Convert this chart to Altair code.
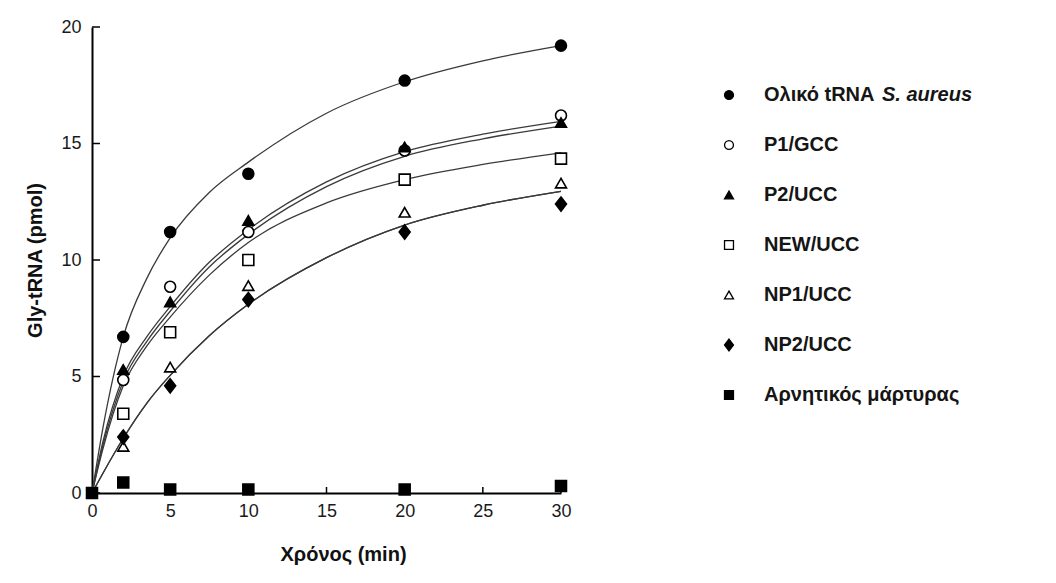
import altair as alt
import pandas as pd

# ---------------- data ----------------
series = ["Ολικό tRNA S. aureus", "P1/GCC", "P2/UCC", "NEW/UCC",
          "NP1/UCC", "NP2/UCC", "Αρνητικός μάρτυρας"]

t_meas = [2, 5, 10, 20, 30]
total_y = [6.7, 11.2, 13.7, 17.7, 19.2]
p1_y = [4.85, 8.85, 11.2, 14.7, 16.2]
p2_y = [5.3, 8.2, 11.7, 14.85, 15.9]
new_y = [3.4, 6.9, 10.0, 13.45, 14.35]
np1_y = [2.0, 5.4, 8.9, 12.05, 13.3]
np2_y = [2.4, 4.6, 8.3, 11.2, 12.4]
neg_t = [0, 2, 5, 10, 20, 30]
neg_y = [0.0, 0.45, 0.15, 0.15, 0.15, 0.3]

# fitted curves
t_fit = [0, 0.7, 2, 3.5, 5, 7.5, 10, 15, 20, 25, 30]
total_fit = [0, 2.8, 6.7, 9.2, 10.95, 12.9, 14.2, 16.3, 17.65, 18.55, 19.2]
p1_fit = [0, 2.2, 5.0, 6.7, 8.0, 9.9, 11.3, 13.35, 14.65, 15.4, 15.95]
p2_fit = [0, 2.05, 4.8, 6.5, 7.8, 9.7, 11.1, 13.15, 14.45, 15.2, 15.75]
new_fit = [0, 1.9, 4.6, 6.3, 7.55, 9.35, 10.75, 12.45, 13.45, 14.1, 14.6]
np1_fit = [0, 0.85, 2.35, 3.85, 5.05, 6.75, 8.1, 10.1, 11.5, 12.35, 12.95]
np2_fit = [0, 0.85, 2.35, 3.85, 5.05, 6.75, 8.1, 10.1, 11.5, 12.35, 12.95]

x_ticks = [0, 5, 10, 15, 20, 25, 30]
y_ticks = [0, 5, 10, 15, 20]

# ---------------- styles ----------------
DIAMOND = "M0,-1.3L1,0L0,1.3L-1,0Z"
shapes = ["circle", "circle", "triangle-up", "square",
          "triangle-up", DIAMOND, "square"]
fills = ["black", "white", "black", "white", "white", "black", "black"]
sizes = [120, 120, 140, 150, 160, 150, 120]

# ---------------- tables ----------------
pts_rows = []
for name, ys in zip(series[:6], [total_y, p1_y, p2_y, new_y, np1_y, np2_y]):
    for t, v in zip(t_meas, ys):
        pts_rows.append({"series": name, "t": t, "v": v})
for t, v in zip(neg_t, neg_y):
    pts_rows.append({"series": series[6], "t": t, "v": v})
pts = pd.DataFrame(pts_rows)

fit_rows = []
for name, ys in zip(series[:6], [total_fit, p1_fit, p2_fit, new_fit, np1_fit, np2_fit]):
    for t, v in zip(t_fit, ys):
        fit_rows.append({"series": name, "t": t, "v": v})
fit = pd.DataFrame(fit_rows)

leg = pd.DataFrame({"series": series,
                    "label": ["Ολικό tRNA"] + series[1:]})
leg_it = pd.DataFrame({"series": [series[0]], "label": ["S. aureus"]})

W, H = 469, 466
FONT = "Liberation Sans"

x_axis = alt.Axis(values=x_ticks, title="Χρόνος (min)", ticks=False, grid=False,
                  labelFlush=False, labelFontSize=18, labelPadding=9, titleFontSize=20,
                  titlePadding=24, titleX=251)
y_axis = alt.Axis(values=y_ticks, title="Gly-tRNA  (pmol)", ticks=False, grid=False,
                  labelFlush=False, labelFontSize=18, labelPadding=11, titleFontSize=20,
                  titlePadding=15)
X = alt.X("t:Q", scale=alt.Scale(domain=[0, 30], nice=False, zero=False), axis=x_axis)
Y = alt.Y("v:Q", scale=alt.Scale(domain=[0, 20], nice=False), axis=y_axis)

shape_enc = alt.Shape("series:N", scale=alt.Scale(domain=series, range=shapes), legend=None)
fill_enc = alt.Fill("series:N", scale=alt.Scale(domain=series, range=fills), legend=None)
size_enc = alt.Size("series:N", scale=alt.Scale(domain=series, range=sizes), legend=None)

lines = alt.Chart(fit).mark_line(interpolate="monotone", color="#3a3a3a",
                                 strokeWidth=1.3).encode(x=X, y=Y, detail="series:N")

points = alt.Chart(pts).mark_point(filled=True, stroke="black", strokeWidth=1.6,
                                   opacity=1).encode(
    x=X, y=Y, shape=shape_enc, fill=fill_enc, size=size_enc)

ytk = alt.Chart(pd.DataFrame({"v": y_ticks})).mark_rule(color="black", strokeWidth=1.5).encode(
    y=Y, x=alt.value(0), x2=alt.value(8))
xtk = alt.Chart(pd.DataFrame({"t": x_ticks})).mark_rule(color="black", strokeWidth=1.5).encode(
    x=X, y=alt.value(H), y2=alt.value(H - 6))

main = alt.layer(lines, ytk, xtk, points)

LY = alt.Y("series:N", sort=series,
           scale=alt.Scale(domain=series, range=[68, 368], padding=0), axis=None)

leg_pts = alt.Chart(leg).mark_point(filled=True, stroke="black", strokeWidth=1.3,
                                    opacity=1, size=80).encode(
    y=LY, x=alt.value(637), shape=shape_enc, fill=fill_enc)
leg_txt = alt.Chart(leg).mark_text(align="left", baseline="middle", fontSize=20,
                                   fontWeight="bold", font=FONT, color="#151515").encode(
    y=LY, x=alt.value(672), text="label:N")
leg_it_txt = alt.Chart(leg_it).mark_text(align="left", baseline="middle", fontSize=20,
                                         fontWeight="bold", fontStyle="italic", font=FONT,
                                         color="#151515", dx=118).encode(
    y=LY, x=alt.value(672), text="label:N")

chart = alt.layer(main, leg_pts, leg_txt, leg_it_txt).resolve_scale(
    y="independent"
).properties(
    width=W, height=H,
    padding={"left": 17, "top": 10, "right": 5, "bottom": 5},
    background="white",
).configure_view(stroke=None).configure_axis(
    domainColor="black", domainWidth=2, labelColor="#1a1a1a", titleColor="#111",
    labelFont=FONT, titleFont=FONT, titleFontWeight="bold",
)

chart.save("out.html", embed_options={"renderer": "svg", "actions": False})
